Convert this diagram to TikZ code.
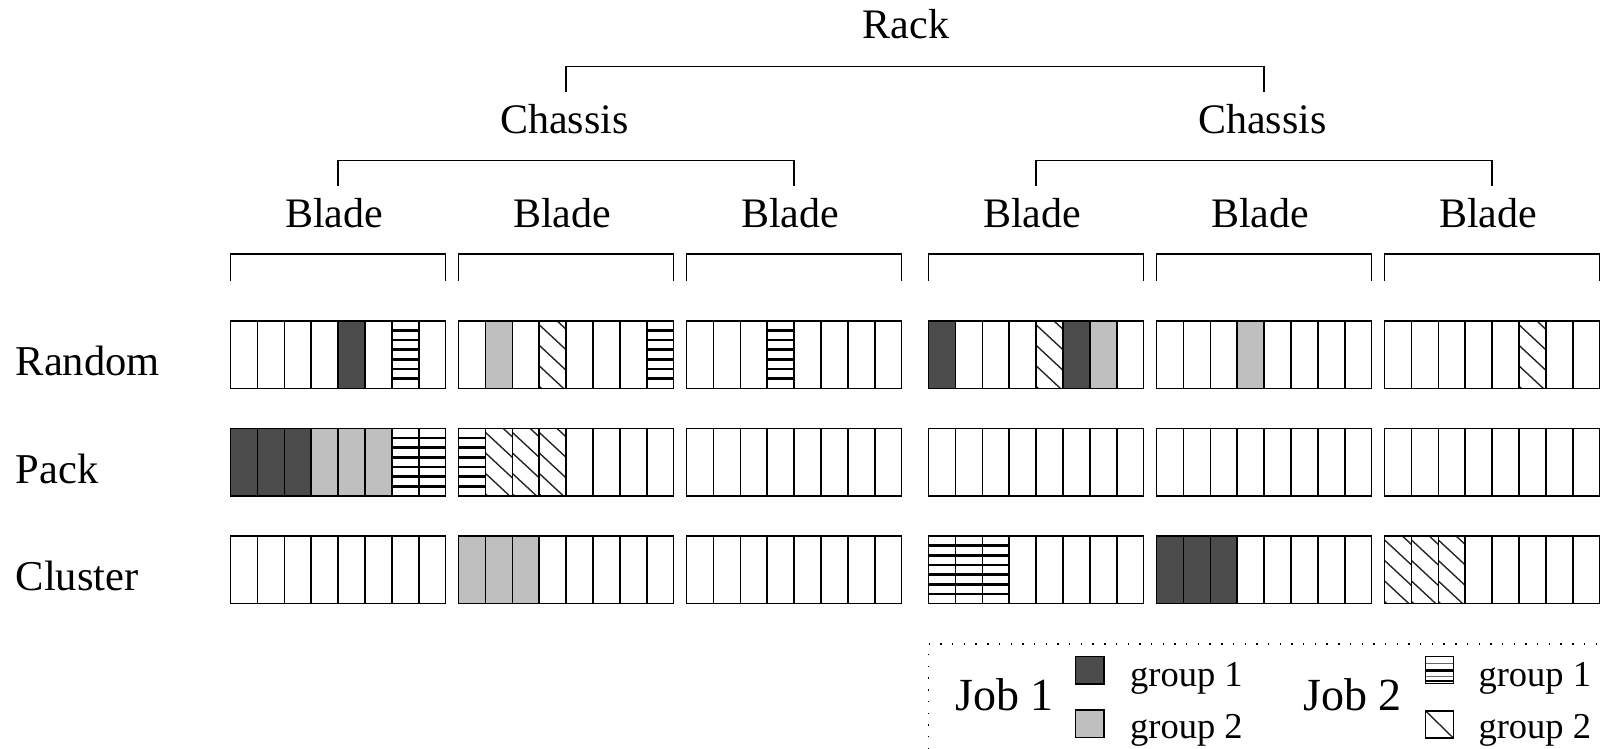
\documentclass[tikz,border=0pt]{standalone}
\usepackage{fontspec}
\setmainfont{Liberation Serif}
\definecolor{jobdark}{gray}{0.30}
\definecolor{joblight}{gray}{0.75}

% cell fills: #1 = left x, #2 = top y
\def\cellcw{26.875}
\def\cellch{67.5}
\newcommand\cellD[2]{\fill[jobdark] (#1,#2) rectangle ++(\cellcw,\cellch);}
\newcommand\cellL[2]{\fill[joblight] (#1,#2) rectangle ++(\cellcw,\cellch);}
\newcommand\cellH[2]{%
  \begin{scope}
    \clip (#1,#2) rectangle ++(\cellcw,\cellch);
    \foreach \k in {1,...,6} \draw[stripe] (#1,#2+\k*9.64) -- ++(\cellcw,0);
  \end{scope}}
\newcommand\cellS[2]{%
  \begin{scope}
    \clip (#1,#2) rectangle ++(\cellcw,\cellch);
    \foreach \k in {-1,...,3} \draw[hatch] (#1,#2+4+\k*20.5) -- ++(\cellcw,25);
  \end{scope}}

\begin{document}
\begin{tikzpicture}[x=1pt,y=-1pt,
  lbl/.style={font=\fontsize{42}{48}\selectfont, inner sep=0pt, anchor=base},
  rowlbl/.style={font=\fontsize{42.5}{48}\selectfont, inner sep=0pt, anchor=base west},
  joblbl/.style={font=\fontsize{46}{52}\selectfont, inner sep=0pt, anchor=base west},
  grplbl/.style={font=\fontsize{36.5}{42}\selectfont, inner sep=0pt, anchor=base west},
  brk/.style={line width=1.4pt},
  cellline/.style={line width=1.6pt},
  stripe/.style={line width=2.6pt},
  hatch/.style={line width=1.4pt, black!85},
  keybox/.style={line width=1.2pt},
  legendframe/.style={line width=1.3pt, dash pattern=on 1.4pt off 10.3pt}]
\useasboundingbox (0,0) rectangle (1607,749);

% hierarchy labels
\node[lbl] (rack) at (906,39) {Rack};
\node[lbl] (chassisA) at (564.5,134) {Chassis};
\node[lbl] (chassisB) at (1262.5,134) {Chassis};

% brackets above the chassis and blades
\draw[brk] (566.1,92.2) -- (566.1,66.4) -- (1264.1,66.4) -- (1264.1,92.2);
\draw[brk] (338.1,186.5) -- (338.1,160.7) -- (794.1,160.7) -- (794.1,186.5);
\draw[brk] (1036.1,186.5) -- (1036.1,160.7) -- (1492.1,160.7) -- (1492.1,186.5);

% row labels
\node[rowlbl] (random) at (15.5,375) {Random};
\node[rowlbl] (pack) at (15.5,483.3) {Pack};
\node[rowlbl] (cluster) at (15.5,590) {Cluster};

% occupied cores: row / blade / core / kind
\foreach \r/\b/\c/\t in {
    0/0/4/D, 0/0/6/H,
    0/1/1/L, 0/1/3/S, 0/1/7/H,
    0/2/3/H,
    0/3/0/D, 0/3/4/S, 0/3/5/D, 0/3/6/L,
    0/4/3/L,
    0/5/5/S,
    1/0/0/D, 1/0/1/D, 1/0/2/D, 1/0/3/L, 1/0/4/L, 1/0/5/L, 1/0/6/H, 1/0/7/H,
    1/1/0/H, 1/1/1/S, 1/1/2/S, 1/1/3/S,
    2/1/0/L, 2/1/1/L, 2/1/2/L,
    2/3/0/H, 2/3/1/H, 2/3/2/H,
    2/4/0/D, 2/4/1/D, 2/4/2/D,
    2/5/0/S, 2/5/1/S, 2/5/2/S} {
  \pgfmathsetmacro\xx{{230.6,458.6,686.6,928.6,1156.6,1384.6}[\b]+\c*\cellcw}
  \pgfmathsetmacro\yy{{320.8,428.4,536}[\r]}
  \csname cell\t\endcsname{\xx}{\yy}
}

% blades: label, bracket and the three rows of eight cores
\foreach \b/\bx in {0/230.6,1/458.6,2/686.6,3/928.6,4/1156.6,5/1384.6} {
  \node[lbl] (blade\b) at (\bx+103.5,227.3) {Blade};
  \draw[brk] (\bx,280.7) -- (\bx,254) -- (\bx+215,254) -- (\bx+215,280.7);
  \foreach \ry in {320.8,428.4,536} {
    \draw[cellline] (\bx,\ry) rectangle ++(215,\cellch);
    \foreach \c in {1,...,7}
      \draw[cellline] (\bx+\c*\cellcw,\ry) -- ++(0,\cellch);
  }
}

% legend
\draw[legendframe] (928.3,749) -- (928.3,644) -- (1607,644);
\node[joblbl] (job1) at (955,710) {Job 1};
\node[joblbl] (job2) at (1303.3,710) {Job 2};

\fill[jobdark] (1075.7,656.7) rectangle (1104,684);
\draw[keybox] (1075.7,656.7) rectangle (1104,684);
\fill[joblight] (1075.7,710) rectangle (1104,737.3);
\draw[keybox] (1075.7,710) rectangle (1104,737.3);

\draw[line width=0.9pt, black!60] (1425.7,663.5) -- (1453.3,663.5);
\draw[line width=2.2pt] (1425.7,670.5) -- (1453.3,670.5);
\draw[line width=0.9pt, black!60] (1425.7,676.5) -- (1453.3,676.5);
\draw[line width=2.2pt] (1425.7,681) -- (1453.3,681);
\draw[keybox] (1425.7,656.7) rectangle (1453.3,683.3);
\draw[hatch] (1425.7,711) -- (1453.3,738);
\draw[keybox] (1425.7,711) rectangle (1453.3,738);

\node[grplbl] (g11) at (1130,686) {group 1};
\node[grplbl] (g12) at (1130,738.5) {group 2};
\node[grplbl] (g21) at (1478.3,686) {group 1};
\node[grplbl] (g22) at (1478.3,738.5) {group 2};
\end{tikzpicture}
\end{document}
